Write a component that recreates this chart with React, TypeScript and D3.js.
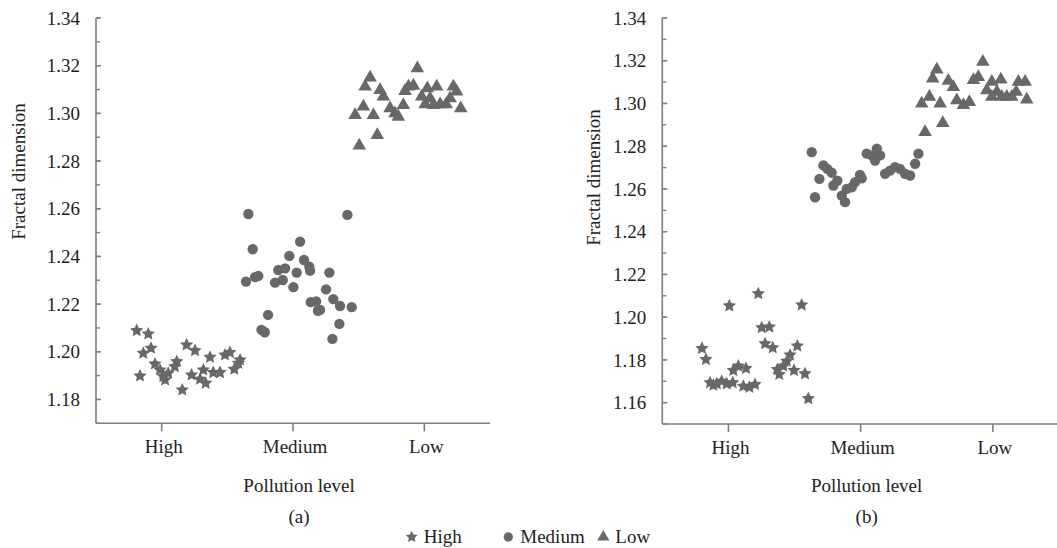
import React from "react";
import * as d3 from "d3";

// category axis: High / Medium / Low at 1, 2, 3 (points are jittered around them)
const categories = ["High", "Medium", "Low"];
const yTicksA = [1.18, 1.2, 1.22, 1.24, 1.26, 1.28, 1.3, 1.32, 1.34];
const yTicksB = [1.16, 1.18, 1.2, 1.22, 1.24, 1.26, 1.28, 1.3, 1.32, 1.34];

// panel (a)
const highA: [number, number][] = [
  [0.81, 1.2089], [0.898, 1.2075], [0.919, 1.2015], [0.86, 1.1994], [0.835, 1.1899],
  [0.949, 1.1949], [0.987, 1.1924], [1.013, 1.1896], [1.05, 1.191], [1.026, 1.1882],
  [1.1, 1.1938], [1.115, 1.1959], [1.157, 1.184], [1.19, 1.2029], [1.254, 1.2005],
  [1.228, 1.1903], [1.292, 1.1885], [1.317, 1.1924], [1.335, 1.1868], [1.368, 1.1977],
  [1.393, 1.1913], [1.444, 1.1913], [1.482, 1.1987], [1.52, 1.1997], [1.553, 1.1927],
  [1.597, 1.1966], [1.584, 1.1952],
];
const mediumA: [number, number][] = [
  [1.66, 1.2578], [2.414, 1.2574], [1.693, 1.243], [2.054, 1.2462], [1.972, 1.2402],
  [2.084, 1.2385], [2.124, 1.2357], [2.13, 1.234], [1.888, 1.2343], [1.94, 1.235],
  [2.028, 1.2332], [1.736, 1.2318], [1.711, 1.2313], [1.642, 1.2294], [1.863, 1.229],
  [1.922, 1.2301], [2.003, 1.2271], [2.277, 1.2332], [2.252, 1.2262], [2.176, 1.2211],
  [2.206, 1.2176], [2.19, 1.2172], [2.307, 1.2221], [2.358, 1.2192], [2.447, 1.2187],
  [1.81, 1.2155], [1.76, 1.2092], [1.785, 1.2082], [2.3, 1.2054], [2.353, 1.2117],
  [2.135, 1.2208],
];
const lowA: [number, number][] = [
  [2.947, 1.3189], [2.587, 1.315], [2.549, 1.3112], [2.663, 1.3098], [2.688, 1.307],
  [2.879, 1.3112], [2.917, 1.3116], [2.853, 1.3094], [3.023, 1.3105], [3.094, 1.3112],
  [2.98, 1.307], [3.044, 1.3063], [3.006, 1.3038], [3.12, 1.3038], [3.069, 1.3035],
  [3.221, 1.3112], [3.246, 1.3091], [3.196, 1.3063], [3.166, 1.3038], [3.277, 1.3021],
  [2.536, 1.3028], [2.473, 1.2993], [2.612, 1.2993], [2.739, 1.3021], [2.777, 1.3],
  [2.802, 1.2986], [2.84, 1.3035], [2.642, 1.2909], [2.505, 1.2865],
];

// panel (b)
const highB: [number, number][] = [
  [1.226, 1.211], [1.007, 1.2053], [1.554, 1.2057], [1.252, 1.1951], [1.309, 1.1954],
  [1.277, 1.1876], [1.335, 1.1857], [0.8, 1.1854], [0.83, 1.1802], [1.521, 1.1865],
  [1.466, 1.1823], [1.441, 1.1794], [1.415, 1.1771], [1.37, 1.1755], [1.385, 1.1732],
  [1.496, 1.1751], [1.579, 1.1735], [1.604, 1.1619], [1.075, 1.1771], [1.133, 1.176],
  [1.037, 1.1751], [0.861, 1.1693], [0.912, 1.1688], [0.949, 1.17], [0.987, 1.1688],
  [1.033, 1.1693], [1.113, 1.1677], [1.158, 1.1672], [1.201, 1.1685], [0.886, 1.1682],
];
const mediumB: [number, number][] = [
  [1.63, 1.2772], [1.655, 1.2561], [1.688, 1.2647], [1.718, 1.271], [1.748, 1.2694],
  [1.781, 1.2676], [1.794, 1.2616], [1.824, 1.2639], [1.857, 1.2569], [1.882, 1.2538],
  [1.895, 1.26], [1.933, 1.2608], [1.958, 1.2632], [1.995, 1.2666], [2.008, 1.265],
  [2.046, 1.2765], [2.084, 1.2757], [2.122, 1.2788], [2.147, 1.2757], [2.109, 1.2733],
  [2.185, 1.2671], [2.222, 1.2686], [2.26, 1.2702], [2.298, 1.2694], [2.336, 1.2671],
  [2.374, 1.2663], [2.412, 1.2718], [2.437, 1.2765],
];
const lowB: [number, number][] = [
  [2.924, 1.3195], [2.576, 1.3159], [2.545, 1.3117], [2.663, 1.3106], [2.701, 1.3077],
  [2.853, 1.3109], [2.89, 1.3124], [2.992, 1.3101], [3.06, 1.3112], [2.954, 1.3062],
  [3.03, 1.3054], [2.992, 1.3031], [3.105, 1.3031], [3.067, 1.3031], [3.193, 1.3101],
  [3.244, 1.3101], [3.176, 1.3054], [3.143, 1.3031], [3.256, 1.3018], [2.52, 1.3031],
  [2.462, 1.2999], [2.601, 1.2999], [2.727, 1.3015], [2.777, 1.2992], [2.822, 1.3007],
  [2.621, 1.2908], [2.487, 1.2866],
];

const MARK = "#686868";
const AXIS = "#7d7d7d";
const INK = "#222";
const FONT = "Liberation Serif, Times New Roman, Times, DejaVu Serif, serif";

// chunkier five-point star than d3.symbolStar
const fatStar: d3.SymbolType = {
  draw(ctx, size) {
    const r = Math.sqrt(size);
    for (let i = 0; i < 10; i++) {
      const a = -Math.PI / 2 + (i * Math.PI) / 5;
      const rr = i % 2 ? r * 0.48 : r;
      if (i === 0) ctx.moveTo(rr * Math.cos(a), rr * Math.sin(a));
      else ctx.lineTo(rr * Math.cos(a), rr * Math.sin(a));
    }
    ctx.closePath();
  },
};

const star = d3.symbol().type(fatStar).size(49)()!;
const circle = d3.symbol().type(d3.symbolCircle).size(84)()!;
const triangle = d3.symbol().type(d3.symbolTriangle).size(80)()!;
const shapes = [star, circle, triangle];

type PanelProps = {
  xRange: [number, number];
  yDomain: [number, number];
  yRange: [number, number];
  ticks: number[];
  data: [number, number][][];
  titleX: number;
  titleY: number;
  tag: string;
};

const Label = (props: React.SVGProps<SVGTextElement>) => (
  <text fontFamily={FONT} fontSize={19} fill={INK} {...props} />
);

const Panel = ({ xRange, yDomain, yRange, ticks, data, titleX, titleY, tag }: PanelProps) => {
  const x = d3.scaleLinear().domain([0.5, 3.5]).range(xRange);
  const y = d3.scaleLinear().domain(yDomain).range(yRange);
  const x0 = xRange[0];
  const yb = yRange[0];
  const minor = d3.range(Math.round(yDomain[0] * 100), Math.round(yDomain[1] * 100) + 1).map((d) => d / 100);
  const mid = x(2) + 6;
  return (
    <g>
      {data.map((pts, si) =>
        pts.map((p, i) => (
          <path key={si + "-" + i} d={shapes[si]} transform={`translate(${x(p[0])},${y(p[1])})`} fill={MARK} />
        ))
      )}
      <line x1={x0} x2={x0} y1={yRange[1]} y2={yb} stroke={AXIS} strokeWidth={1.6} />
      <line x1={x0} x2={xRange[1]} y1={yb} y2={yb} stroke={AXIS} strokeWidth={1.6} />
      {minor.map((t) => (
        <line key={"m" + t} x1={x0} x2={x0 + 4} y1={y(t)} y2={y(t)} stroke={AXIS} strokeWidth={1.4} />
      ))}
      {ticks.map((t) => (
        <g key={"t" + t}>
          <line x1={x0} x2={x0 + 5} y1={y(t)} y2={y(t)} stroke={AXIS} strokeWidth={1.4} />
          <Label x={x0 - 16} y={y(t)} dy="0.35em" textAnchor="end">
            {t.toFixed(2)}
          </Label>
        </g>
      ))}
      {categories.map((c, i) => (
        <g key={c}>
          <line x1={x(i + 1)} x2={x(i + 1)} y1={yb} y2={yb + 8} stroke={AXIS} strokeWidth={1.6} />
          <Label x={x(i + 1) + 2} y={yb + 30} textAnchor="middle">
            {c}
          </Label>
        </g>
      ))}
      <Label x={mid} y={491.5} textAnchor="middle">
        Pollution level
      </Label>
      <Label x={mid} y={522.5} textAnchor="middle">
        {tag}
      </Label>
      <Label transform={`translate(${titleX},${titleY}) rotate(-90)`} dy="0.35em" textAnchor="middle">
        Fractal dimension
      </Label>
    </g>
  );
};

const legendX = [411.7, 508.3, 603.3];

export default function App() {
  return (
    <svg width={1057} height={548} style={{ position: "absolute", left: 0, top: 0, background: "#fff" }}>
      <Panel
        xRange={[96, 490]}
        yDomain={[1.17, 1.34]}
        yRange={[423.3, 18]}
        ticks={yTicksA}
        data={[highA, mediumA, lowA]}
        titleX={18.5}
        titleY={171.5}
        tag="(a)"
      />
      <Panel
        xRange={[662.3, 1059]}
        yDomain={[1.15, 1.34]}
        yRange={[424, 18]}
        ticks={yTicksB}
        data={[highB, mediumB, lowB]}
        titleX={593.7}
        titleY={177.5}
        tag="(b)"
      />
      {categories.map((c, i) => (
        <g key={"lg" + c}>
          <path d={shapes[i]} transform={`translate(${legendX[i]},${537}) scale(0.9)`} fill={MARK} />
          <Label x={legendX[i] + 12} y={543.3}>
            {c}
          </Label>
        </g>
      ))}
    </svg>
  );
}
